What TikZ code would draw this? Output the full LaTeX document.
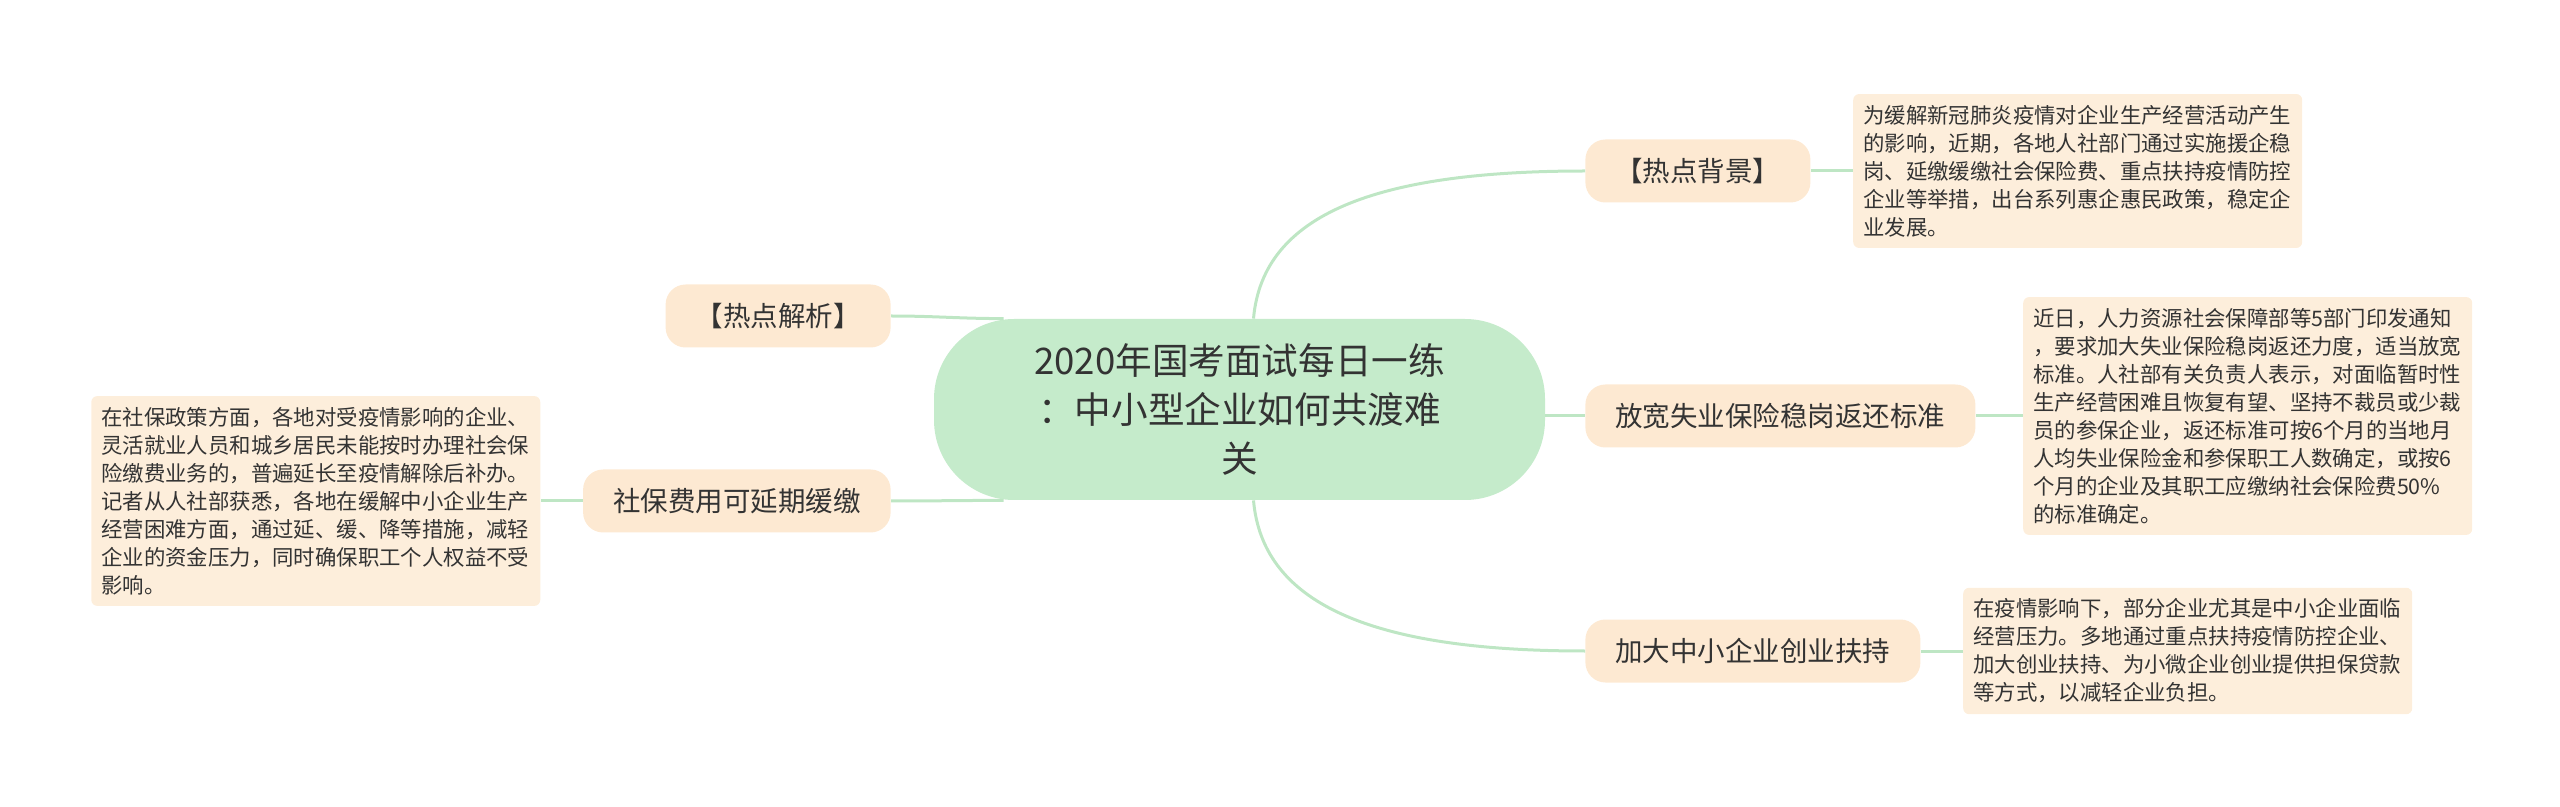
\documentclass[tikz,border=0pt]{standalone}
\usepackage{fontspec}
\setmainfont{Noto Sans CJK SC}
\usetikzlibrary{positioning}
\definecolor{hubgreen}{HTML}{C5EBCB}
\definecolor{linkgreen}{HTML}{BEE6C4}
\definecolor{topicpeach}{HTML}{FDE9D2}
\definecolor{notepeach}{HTML}{FDEEDB}
\definecolor{inkgray}{HTML}{333333}

\begin{document}
\begin{tikzpicture}[x=0.5pt, y=-0.5pt,
	hub/.style={fill=hubgreen, rounded corners=40pt, minimum width=305.5pt, minimum height=90.5pt,
		align=center, text=inkgray, font=\fontsize{18.3pt}{24.5pt}\selectfont},
	topic/.style={fill=topicpeach, rounded corners=10pt, inner xsep=15pt, minimum height=31.5pt,
		text=inkgray, font=\fontsize{13.75pt}{16pt}\selectfont},
	note/.style={fill=notepeach, rounded corners=3pt, inner xsep=5pt, inner ysep=5.5pt,
		text width=214.5pt, align=left, text=inkgray, font=\fontsize{10.7pt}{14pt}\selectfont},
	link/.style={draw=linkgreen, line width=1.5pt},
	node distance=21pt]
	\useasboundingbox (0, 0) rectangle (2560, 807);

	% centre and main topics
	\node [hub] (hub) at (1239.5, 409.5) {2020年国考面试每日一练\\：中小型企业如何共渡难\\关};
	\node [topic, anchor=west] (background) at (1585, 171) {【热点背景】};
	\node [topic, anchor=west] (relax) at (1585, 416) {放宽失业保险稳岗返还标准};
	\node [topic, anchor=west] (support) at (1585, 651) {加大中小企业创业扶持};
	\node [topic, anchor=east] (analysis) at (891, 316) {【热点解析】};
	\node [topic, anchor=east] (deferral) at (891, 501) {社保费用可延期缓缴};

	% detail notes
	\node [note, right=of background] (backgroundnote) {为缓解新冠肺炎疫情对企业生产经营活动产生\\的影响，近期，各地人社部门通过实施援企稳\\岗、延缴缓缴社会保险费、重点扶持疫情防控\\企业等举措，出台系列惠企惠民政策，稳定企\\业发展。};
	\node [note, right=23.5pt of relax] (relaxnote) {近日，人力资源社会保障部等5部门印发通知\\，要求加大失业保险稳岗返还力度，适当放宽\\标准。人社部有关负责人表示，对面临暂时性\\生产经营困难且恢复有望、坚持不裁员或少裁\\员的参保企业，返还标准可按6个月的当地月\\人均失业保险金和参保职工人数确定，或按6\\个月的企业及其职工应缴纳社会保险费50\%\\的标准确定。};
	\node [note, right=of support] (supportnote) {在疫情影响下，部分企业尤其是中小企业面临\\经营压力。多地通过重点扶持疫情防控企业、\\加大创业扶持、为小微企业创业提供担保贷款\\等方式，以减轻企业负担。};
	\node [note, left=of deferral] (deferralnote) {在社保政策方面，各地对受疫情影响的企业、\\灵活就业人员和城乡居民未能按时办理社会保\\险缴费业务的，普遍延长至疫情解除后补办。\\记者从人社部获悉，各地在缓解中小企业生产\\经营困难方面，通过延、缓、降等措施，减轻\\企业的资金压力，同时确保职工个人权益不受\\影响。};

	% connectors
	\draw [link] ([xshift=7pt]hub.north) to [out=85, in=180, out looseness=0.75, in looseness=1.45] (background.west);
	\draw [link] (hub.east |- relax) -- (relax.west);
	\draw [link] ([xshift=7pt]hub.south) to [out=-85, in=180, out looseness=0.75, in looseness=1.45] (support.west);
	\draw [link] (analysis.east) to [out=0, in=180] ([xshift=35pt]hub.north west);
	\draw [link] (deferral.east) to [out=0, in=180] ([xshift=35pt]hub.south west);
	\draw [link] (background) -- (backgroundnote);
	\draw [link] (relax) -- (relaxnote);
	\draw [link] (support.east) -- (support.east -| supportnote.west);
	\draw [link] (deferral) -- (deferralnote);
\end{tikzpicture}
\end{document}
